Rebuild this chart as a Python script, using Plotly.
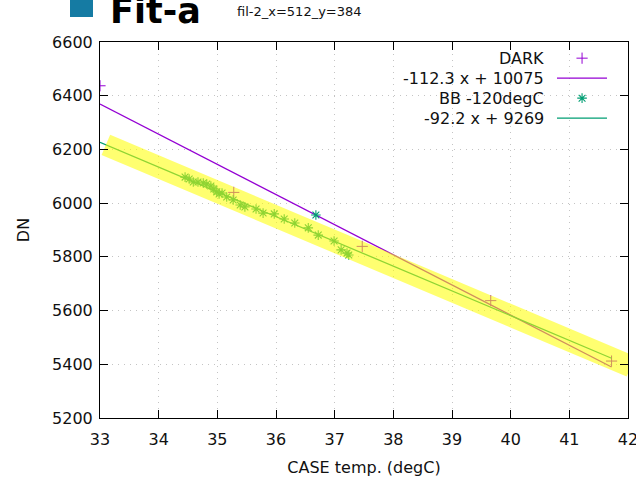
import plotly.graph_objects as go

# ---------------- data ----------------
dark_x = [33.0, 35.28, 37.47, 39.66, 41.72]
dark_y = [6437, 6040, 5839, 5637, 5412]

bb_x = [34.45, 34.52, 34.59, 34.67, 34.76, 34.82, 34.89, 34.94, 34.99, 35.03,
        35.08, 35.16, 35.27, 35.39, 35.47, 35.66, 35.78, 35.97, 36.14, 36.32,
        36.55, 36.68, 36.72, 36.99, 37.11, 37.21, 37.24]
bb_y = [6097, 6090, 6079, 6079, 6075, 6071, 6064, 6053, 6042, 6034,
        6038, 6023, 6012, 5993, 5986, 5978, 5963, 5960, 5941, 5926,
        5908, 5956, 5881, 5859, 5826, 5814, 5807]

dark_fit = [-112.3, 10075]   # slope, intercept
bb_fit = [-92.2, 9269]
band_x = [33.1, 42.05]       # highlighted band along BB fit

series_names = ["DARK", "BB -120degC"]
x_ticks = list(range(33, 43))
y_ticks = list(range(5200, 6601, 200))
title_main = "Fit-a"
title_sub = "fil-2_x=512_y=384"
x_title = "CASE temp. (degC)"
y_title = "DN"

# ---------------- style ----------------
PURPLE = "#9400D3"
TEAL = "#009E73"
YELLOW = "rgba(255,255,0,0.56)"
FONT = "DejaVu Sans"

def fit_label(p):
    return f"{p[0]:g} x + {p[1]:g}"

fit_x = [min(dark_x), max(dark_x)]
dark_line_y = [dark_fit[0] * x + dark_fit[1] for x in fit_x]
bb_line_y = [bb_fit[0] * x + bb_fit[1] for x in fit_x]
band_y = [bb_fit[0] * x + bb_fit[1] for x in band_x]

plus_marker = dict(symbol="cross-thin-open", size=8, color=PURPLE,
                   line=dict(color=PURPLE, width=1))
star_marker = dict(symbol="asterisk-open", size=8, color=TEAL,
                   line=dict(color=TEAL, width=1.1))

fig = go.Figure()

fig.add_trace(go.Scatter(x=dark_x, y=dark_y, mode="markers", name=series_names[0],
                         marker=plus_marker))
fig.add_trace(go.Scatter(x=fit_x, y=dark_line_y, mode="lines", name=fit_label(dark_fit),
                         line=dict(color=PURPLE, width=1.3)))
fig.add_trace(go.Scatter(x=bb_x, y=bb_y, mode="markers", name=series_names[1],
                         marker=star_marker))
fig.add_trace(go.Scatter(x=fit_x, y=bb_line_y, mode="lines", name=fit_label(bb_fit),
                         line=dict(color=TEAL, width=1.3)))
fig.add_trace(go.Scatter(x=band_x, y=band_y, mode="lines", name="band",
                         line=dict(color=YELLOW, width=22)))

# ---- gnuplot-style key (text left, sample right) on an overlay axis ----
legend_labels = [series_names[0], fit_label(dark_fit), series_names[1], fit_label(bb_fit)]
row_top = 0.957
row_step = 20 / 376
rows = [row_top - i * row_step for i in range(4)]
text_x = 0.845
samp_x0, samp_x1, samp_mid = 0.8655, 0.9602, 0.913

fig.add_trace(go.Scatter(x=[samp_mid], y=[rows[0]], xaxis="x2", yaxis="y2", mode="markers",
                         marker=plus_marker))
fig.add_trace(go.Scatter(x=[samp_x0, samp_x1], y=[rows[1], rows[1]], xaxis="x2", yaxis="y2",
                         mode="lines", line=dict(color=PURPLE, width=1.3)))
fig.add_trace(go.Scatter(x=[samp_mid], y=[rows[2]], xaxis="x2", yaxis="y2", mode="markers",
                         marker=star_marker))
fig.add_trace(go.Scatter(x=[samp_x0, samp_x1], y=[rows[3], rows[3]], xaxis="x2", yaxis="y2",
                         mode="lines", line=dict(color=TEAL, width=1.3)))

annotations = []
for lab, ry in zip(legend_labels, rows):
    annotations.append(dict(x=text_x, y=ry, xref="paper", yref="paper", text=lab,
                            showarrow=False, xanchor="right", yanchor="middle",
                            font=dict(family=FONT, size=16, color="#111")))
annotations.append(dict(x=0.0152, y=1.082, xref="paper", yref="paper",
                        text=f"<b>{title_main}</b>", showarrow=False,
                        xanchor="left", yanchor="middle",
                        font=dict(family=FONT, size=35, color="#000")))
annotations.append(dict(x=0.3769, y=1.0798, xref="paper", yref="paper",
                        text=title_sub, showarrow=False,
                        xanchor="center", yanchor="middle",
                        font=dict(family=FONT, size=13, color="#111")))

axis_common = dict(
    ticks="inside", ticklen=8, tickcolor="#000", tickwidth=1,
    showline=True, linecolor="#000", linewidth=1, mirror="ticks",
    showgrid=True, gridcolor="#c4c4c4", griddash="1px,5px", gridwidth=1,
    zeroline=False, tickfont=dict(family=FONT, size=16, color="#111"),
    ticklabeloverflow="allow", automargin=False,
)

fig.update_layout(
    width=636, height=480,
    margin=dict(l=100, r=8, t=42, b=62),
    paper_bgcolor="white", plot_bgcolor="white",
    showlegend=False,
    xaxis=dict(range=[33, 42], tickvals=x_ticks, ticklabelstandoff=7,
               title=dict(text=x_title, font=dict(family=FONT, size=16, color="#111"), standoff=13),
               **axis_common),
    yaxis=dict(range=[5200, 6600], tickvals=y_ticks, ticklabelstandoff=3,
               title=dict(text=y_title, font=dict(family=FONT, size=16, color="#111"), standoff=18),
               **axis_common),
    xaxis2=dict(range=[0, 1], overlaying="x", visible=False, fixedrange=True),
    yaxis2=dict(range=[0, 1], overlaying="y", visible=False, fixedrange=True),
    annotations=annotations,
    shapes=[dict(type="rect", xref="paper", yref="paper",
                 x0=-0.0568, x1=-0.0133, y0=1.0665, y1=1.13,
                 fillcolor="#157ba3", line=dict(width=0))],
)

fig.write_html("out.html")
